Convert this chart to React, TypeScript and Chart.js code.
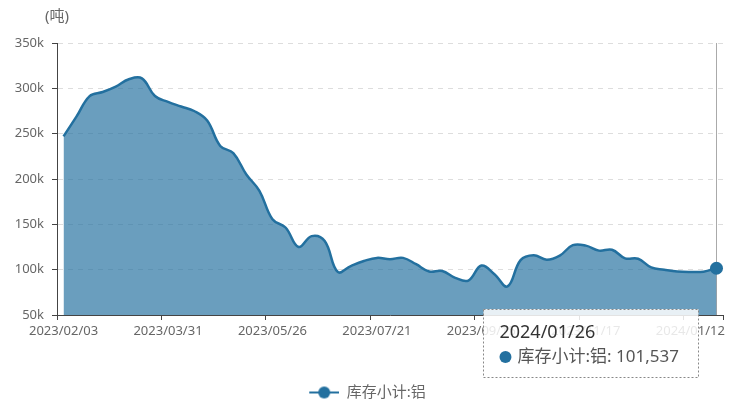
import React, { useEffect, useRef } from "react";
import { Chart, registerables } from "chart.js";

Chart.register(...registerables);

const seriesName = "库存小计:铝";
const unitLabel = "(吨)";

const dates = [
  "2023/02/03", "2023/02/10", "2023/02/17", "2023/02/24", "2023/03/03", "2023/03/10",
  "2023/03/17", "2023/03/24", "2023/03/31", "2023/04/07", "2023/04/14", "2023/04/21",
  "2023/04/28", "2023/05/05", "2023/05/12", "2023/05/19", "2023/05/26", "2023/06/02",
  "2023/06/09", "2023/06/16", "2023/06/23", "2023/06/30", "2023/07/07", "2023/07/14",
  "2023/07/21", "2023/07/28", "2023/08/04", "2023/08/11", "2023/08/18", "2023/08/25",
  "2023/09/01", "2023/09/08", "2023/09/15", "2023/09/22", "2023/09/28", "2023/10/13",
  "2023/10/20", "2023/10/27", "2023/11/03", "2023/11/10", "2023/11/17", "2023/11/24",
  "2023/12/01", "2023/12/08", "2023/12/15", "2023/12/22", "2023/12/29", "2024/01/05",
  "2024/01/12", "2024/01/19", "2024/01/26",
];

const values = [
  247000, 269000, 291500, 296000, 302000, 310000,
  311000, 291500, 285000, 280000, 275000, 264500,
  236500, 228500, 205000, 187000, 155500, 146500,
  125000, 137000, 131500, 97500, 104000, 109500,
  113000, 111500, 113000, 106000, 98000, 98500,
  91000, 88000, 104500, 95000, 81500, 110500,
  116000, 111000, 115500, 127000, 126500, 121000,
  122000, 112500, 112000, 102500, 100000, 98000,
  97500, 97800, 101537,
];

const yTicks = [50000, 100000, 150000, 200000, 250000, 300000, 350000];
const labelEvery = 8;

const LINE = "#23709f";
const FILL = "rgba(35,112,159,0.68)";
const FONT = "'Noto Sans', 'Noto Sans CJK SC', sans-serif";

function makeLegendIcon(): HTMLCanvasElement {
  const c = document.createElement("canvas");
  c.width = 42;
  c.height = 14;
  const g = c.getContext("2d")!;
  g.strokeStyle = LINE;
  g.lineWidth = 2;
  g.beginPath();
  g.moveTo(12, 7);
  g.lineTo(42, 7);
  g.stroke();
  g.fillStyle = LINE;
  g.beginPath();
  g.arc(27, 7, 6, 0, Math.PI * 2);
  g.fill();
  return c;
}

const overlayPlugin = {
  id: "overlay",
  beforeDatasetsDraw(chart: any) {
    const { ctx, chartArea } = chart;
    const meta = chart.getDatasetMeta(0);
    const last = meta.data[meta.data.length - 1];
    if (!last) return;
    ctx.save();
    ctx.strokeStyle = "#aaaaaa";
    ctx.lineWidth = 1;
    ctx.beginPath();
    ctx.moveTo(Math.round(last.x) + 0.5, chartArea.top);
    ctx.lineTo(Math.round(last.x) + 0.5, chartArea.bottom);
    ctx.stroke();
    ctx.restore();
  },
  afterDraw(chart: any) {
    const { ctx, chartArea } = chart;
    ctx.save();
    ctx.font = `15px ${FONT}`;
    ctx.fillStyle = "#666";
    ctx.textAlign = "center";
    ctx.textBaseline = "middle";
    ctx.fillText(unitLabel, chartArea.left, 17);
    ctx.restore();

    const meta = chart.getDatasetMeta(0);
    const last = meta.data[meta.data.length - 1];
    if (!last) return;
    const i = values.length - 1;
    const title = dates[i];
    const body = `${seriesName}: ${values[i].toLocaleString("en-US")}`;
    const right = last.x - 18;
    const left = right - 215;
    const top = chartArea.bottom - 6;
    const h = 68;
    ctx.save();
    ctx.fillStyle = "rgba(255,255,255,0.85)";
    ctx.fillRect(left, top, right - left, h);
    ctx.setLineDash([2, 2]);
    ctx.strokeStyle = "#888";
    ctx.lineWidth = 1;
    ctx.strokeRect(Math.round(left) + 0.5, Math.round(top) + 0.5, Math.round(right - left), h);
    ctx.setLineDash([]);
    ctx.fillStyle = "#333";
    ctx.font = `18px ${FONT}`;
    ctx.textAlign = "left";
    ctx.textBaseline = "alphabetic";
    ctx.fillText(title, left + 16, top + 29);
    ctx.fillStyle = LINE;
    ctx.beginPath();
    ctx.arc(left + 22, top + 48, 6, 0, Math.PI * 2);
    ctx.fill();
    ctx.fillStyle = "#555";
    ctx.font = `17px ${FONT}`;
    ctx.textBaseline = "middle";
    ctx.fillText(body, left + 34, top + 48);
    ctx.restore();
  },
};

export default function App() {
  const ref = useRef<HTMLCanvasElement | null>(null);

  useEffect(() => {
    document.body.style.margin = "0";
    if (!ref.current) return;
    const icon = makeLegendIcon();
    const lastIdx = values.length - 1;
    const tickCol = (ctx: any) =>
      ctx.type === "scale" || (ctx.index !== undefined && ctx.index % labelEvery === 0)
        ? "#444"
        : "rgba(0,0,0,0)";
    const chart = new Chart(ref.current, {
      type: "line",
      data: {
        labels: dates,
        datasets: [
          {
            label: seriesName,
            data: values,
            borderColor: LINE,
            backgroundColor: FILL,
            borderWidth: 2.5,
            fill: "start",
            tension: 0.4,
            pointRadius: (c: any) => (c.dataIndex === lastIdx ? 6.5 : 0),
            pointBackgroundColor: LINE,
            pointBorderWidth: 0,
            pointHoverRadius: 0,
          },
        ],
      },
      options: {
        responsive: false,
        animation: false,
        events: [],
        layout: { padding: { top: 43, right: 16, bottom: 0, left: 0 } },
        plugins: {
          tooltip: { enabled: false },
          title: { display: false },
          legend: {
            display: true,
            position: "bottom",
            labels: {
              usePointStyle: true,
              pointStyleWidth: 42,
              padding: 9,
              color: "#666",
              font: { size: 15, family: FONT },
              generateLabels: () => [
                {
                  text: seriesName,
                  pointStyle: icon as any,
                  fillStyle: LINE,
                  strokeStyle: LINE,
                  lineWidth: 0,
                  hidden: false,
                  datasetIndex: 0,
                  fontColor: "#666",
                } as any,
              ],
            },
          },
        },
        scales: {
          x: {
            type: "category",
            offset: true,
            afterFit: (s: any) => {
              s.height = 61;
            },
            grid: {
              display: true,
              offset: true,
              drawOnChartArea: false,
              drawTicks: true,
              tickLength: 5,
              tickColor: tickCol,
              color: "rgba(0,0,0,0)",
            },
            border: { display: true, color: "#444", width: 1 },
            ticks: {
              autoSkip: false,
              maxRotation: 0,
              minRotation: 0,
              padding: 3,
              color: "#666",
              font: { size: 13, family: FONT },
              callback: (_v: any, i: number) => (i % labelEvery === 0 ? dates[i] : ""),
            },
          },
          y: {
            min: yTicks[0],
            max: yTicks[yTicks.length - 1],
            afterFit: (s: any) => {
              s.width = 57;
            },
            afterBuildTicks: (s: any) => {
              s.ticks = yTicks.map((v) => ({ value: v }));
            },
            grid: {
              color: "#dddddd",
              tickColor: "#444",
              tickLength: 5,
              drawTicks: true,
              lineWidth: 1,
            } as any,
            border: { display: true, color: "#444", width: 1, dash: [5, 5] } as any,
            ticks: {
              padding: 8,
              color: "#666",
              font: { size: 13, family: FONT },
              callback: (v: any) => `${Number(v) / 1000}k`,
            },
          },
        },
      },
      plugins: [overlayPlugin],
    } as any);
    return () => chart.destroy();
  }, []);

  return (
    <div style={{ width: 739, height: 410 }}>
      <canvas ref={ref} width={739} height={410} />
    </div>
  );
}
